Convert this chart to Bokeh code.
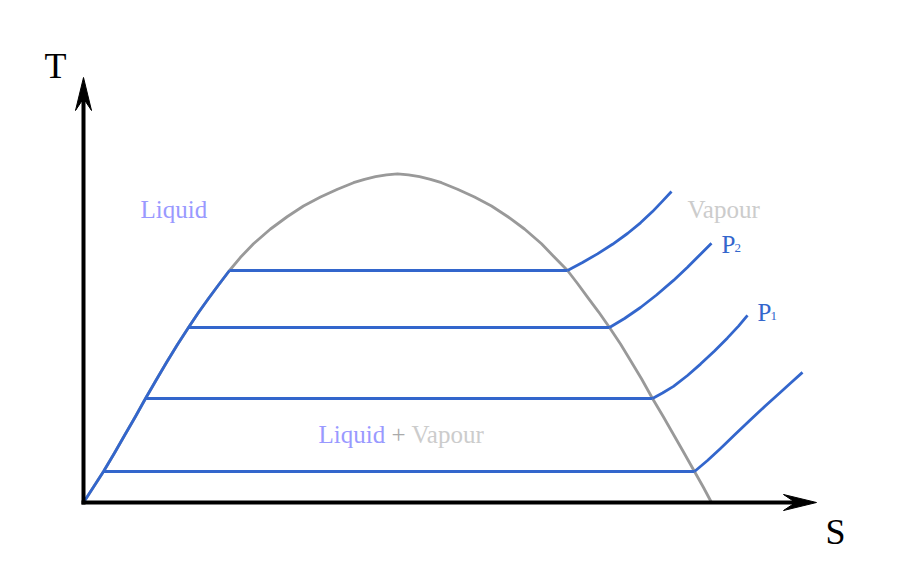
from bokeh.plotting import figure
from bokeh.models import Range1d
from bokeh.embed import file_html
from bokeh.resources import INLINE
from bokeh.core.properties import value

# ---- data (entropy S, temperature T in arbitrary units) ----
dome_s = [0, 10, 20, 31, 41, 52, 62, 73, 83, 94, 105, 115, 125, 135, 146, 157, 170, 187, 204, 220,
          237, 254, 270, 281, 292, 303, 314, 325, 336, 347, 358, 374, 391, 408, 424, 441, 458, 471,
          484, 494, 504, 515, 526, 537, 547, 558, 569, 580, 590, 600, 611, 620, 628]
dome_t = [0, 15.5, 31, 49.5, 67, 86, 104, 123, 140, 158, 175, 190, 204, 217.5, 232, 245.2, 258.7,
          273.5, 286, 296.5, 305.5, 313.3, 319.8, 323.2, 325.8, 327.7, 328.7, 327.7, 325.8, 323.2,
          319.8, 313.3, 305.5, 296.5, 286, 273.5, 258.7, 245.2, 232, 219, 205.3, 190.7, 175, 158.5,
          142, 123.7, 104, 85.5, 68, 50.5, 31, 15, 0]

liquid_s = [0, 10, 20, 31, 41, 52, 62, 73, 83, 94, 105, 115, 125, 135, 146]
liquid_t = [0, 15.5, 31, 49.5, 67, 86, 104, 123, 140, 158, 175, 190, 204, 217.5, 232]

iso_t = [232, 175, 104, 31]
iso_left_s = [146, 105, 62, 20]
iso_right_s = [484, 526, 569, 611]

sup_s = [
    [484, 499, 514, 529, 544, 557, 569, 579, 588],
    [526, 541, 557, 573, 590, 604, 617, 628],
    [569, 579, 590, 604, 617, 631, 644, 655, 664],
    [611, 624, 637, 652, 667, 682, 697, 708, 719],
]
sup_t = [
    [232, 240, 248.6, 258.2, 269, 279.7, 290.9, 301.4, 311],
    [175, 184, 195, 207.5, 222.1, 235.3, 248.3, 259.3],
    [104, 109.5, 116.1, 127, 138.4, 151.6, 164.6, 176.4, 187.2],
    [31, 42, 54, 68.4, 82.8, 96.8, 110.3, 120.2, 130.1],
]

s_axis_end = 733
t_axis_end = 425

FONT = "Liberation Serif"
BLUE = "#3366cc"
GRAY = "#999999"
LIQ = "#9999ff"
VAP = "#cccccc"
LW = 2.8

p = figure(width=884, height=566, output_backend="svg", toolbar_location=None,
           x_range=Range1d(-83, 801), y_range=Range1d(-64, 502), min_border=0)
p.axis.visible = False
p.grid.visible = False
p.outline_line_color = None
p.background_fill_color = "white"
p.border_fill_color = "white"

# saturation dome
p.line(dome_s, dome_t, line_color=GRAY, line_width=LW, line_join="round")
# saturated liquid line in blue
p.line(liquid_s, liquid_t, line_color=BLUE, line_width=LW, line_join="round")

# isobars
for i in range(len(iso_t)):
    p.line([iso_left_s[i], iso_right_s[i]], [iso_t[i], iso_t[i]], line_color=BLUE, line_width=LW)
    p.line(sup_s[i], sup_t[i], line_color=BLUE, line_width=LW, line_join="round")

# axes
p.line([-2, s_axis_end - 20], [0, 0], line_color="black", line_width=4)
p.line([0, 0], [-2, t_axis_end - 20], line_color="black", line_width=4)
# arrowheads (dart shape)
L, W, N = 33, 8, 21
p.patch([s_axis_end, s_axis_end - L, s_axis_end - N, s_axis_end - L],
        [0, W, 0, -W], fill_color="black", line_color="black", line_width=1)
p.patch([0, W, 0, -W],
        [t_axis_end, t_axis_end - L, t_axis_end - N, t_axis_end - L],
        fill_color="black", line_color="black", line_width=1)

# axis labels
p.text(x=[-28], y=[437], text=["T"], text_font=value(FONT), text_font_size="36px",
       text_color="black", text_align="center", text_baseline="alphabetic")
p.text(x=[752], y=[-29], text=["S"], text_font=value(FONT), text_font_size="36px",
       text_color="black", text_align="center", text_baseline="alphabetic")

# region labels
p.text(x=[57], y=[293], text=["Liquid"], text_font=value(FONT), text_font_size="25px",
       text_color=LIQ, text_baseline="alphabetic")
p.text(x=[604], y=[293], text=["Vapour"], text_font=value(FONT), text_font_size="25px",
       text_color=VAP, text_baseline="alphabetic")
p.text(x=[235], y=[68], text=["Liquid"], text_font=value(FONT), text_font_size="25px",
       text_color=LIQ, text_baseline="alphabetic")
p.text(x=[308], y=[68], text=["+"], text_font=value(FONT), text_font_size="25px",
       text_color="#aaaaaa", text_baseline="alphabetic")
p.text(x=[328], y=[68], text=["Vapour"], text_font=value(FONT), text_font_size="25px",
       text_color=VAP, text_baseline="alphabetic")

# pressure labels with subscripts
p.text(x=[638], y=[258], text=["P"], text_font=value(FONT), text_font_size="25px",
       text_color=BLUE, text_baseline="alphabetic")
p.text(x=[651], y=[255], text=["2"], text_font=value(FONT), text_font_size="13px",
       text_color=BLUE, text_baseline="alphabetic")
p.text(x=[674], y=[190], text=["P"], text_font=value(FONT), text_font_size="25px",
       text_color=BLUE, text_baseline="alphabetic")
p.text(x=[687], y=[187], text=["1"], text_font=value(FONT), text_font_size="13px",
       text_color=BLUE, text_baseline="alphabetic")

open("out.html", "w").write(file_html(p, INLINE))
